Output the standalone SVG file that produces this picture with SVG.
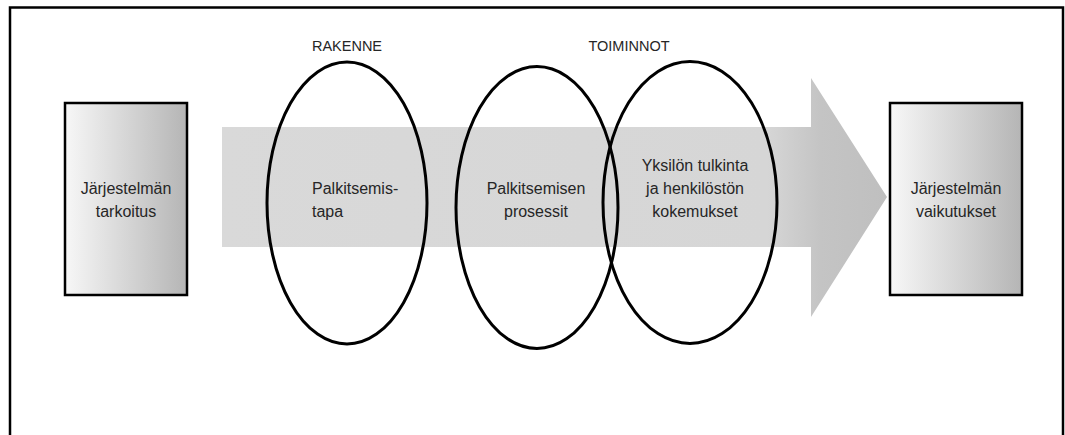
<svg xmlns="http://www.w3.org/2000/svg" width="1065" height="435" viewBox="0 0 1065 435">
  <style>
    .lbl { font-family: "Liberation Sans", Arial, sans-serif; font-size: 16px; fill: #262626; }
    .hdr { font-family: "Liberation Sans", Arial, sans-serif; font-size: 14.5px; fill: #262626; text-anchor: middle; }
    .box { fill: url(#boxGrad); stroke: #000; stroke-width: 2.5; }
    .ell { fill: none; stroke: #000; stroke-width: 3; }
  </style>
  <defs>
    <linearGradient id="boxGrad" x1="0" y1="0" x2="1" y2="0">
      <stop offset="0" stop-color="#f7f7f7"/>
      <stop offset="1" stop-color="#b5b5b5"/>
    </linearGradient>
    <linearGradient id="arrowGrad" gradientUnits="userSpaceOnUse" x1="222" y1="0" x2="887" y2="0">
      <stop offset="0" stop-color="#d9d9d9"/>
      <stop offset="0.82" stop-color="#d6d6d6"/>
      <stop offset="0.9" stop-color="#c4c4c4"/>
      <stop offset="1" stop-color="#bfbfbf"/>
    </linearGradient>
  </defs>
  <rect x="0" y="0" width="1065" height="435" fill="#fff"/>
  <rect id="frame" x="10" y="7.5" width="1053" height="440" fill="none" stroke="#000" stroke-width="2.5"/>

  <g id="connectors">
    <polygon id="flow-arrow" points="222,127 811,127 811,78 887,197 811,317 811,247 222,247" fill="url(#arrowGrad)"/>
  </g>

  <g id="node-tarkoitus">
    <rect class="box" x="65" y="103" width="122" height="192"/>
    <text class="lbl" text-anchor="middle" x="126" y="194">Järjestelmän</text>
    <text class="lbl" text-anchor="middle" x="126" y="217">tarkoitus</text>
  </g>

  <g id="node-vaikutukset">
    <rect class="box" x="890" y="103" width="132" height="192"/>
    <text class="lbl" text-anchor="middle" x="956" y="194">Järjestelmän</text>
    <text class="lbl" text-anchor="middle" x="956" y="217">vaikutukset</text>
  </g>

  <g id="node-rakenne">
    <text class="hdr" x="347" y="51">RAKENNE</text>
    <ellipse class="ell" cx="347" cy="203" rx="80" ry="141"/>
    <text class="lbl" x="312" y="194">Palkitsemis-</text>
    <text class="lbl" x="312" y="217">tapa</text>
  </g>

  <g id="node-toiminnot-label">
    <text class="hdr" x="629" y="51">TOIMINNOT</text>
  </g>

  <g id="node-prosessit">
    <ellipse class="ell" cx="537" cy="207.5" rx="81" ry="141"/>
    <text class="lbl" text-anchor="middle" x="536" y="194">Palkitsemisen</text>
    <text class="lbl" text-anchor="middle" x="536" y="217">prosessit</text>
  </g>

  <g id="node-kokemukset">
    <ellipse class="ell" cx="690" cy="202.5" rx="87" ry="141"/>
    <text class="lbl" text-anchor="middle" x="695" y="171">Yksilön tulkinta</text>
    <text class="lbl" text-anchor="middle" x="695" y="194">ja henkilöstön</text>
    <text class="lbl" text-anchor="middle" x="695" y="217">kokemukset</text>
  </g>
</svg>
